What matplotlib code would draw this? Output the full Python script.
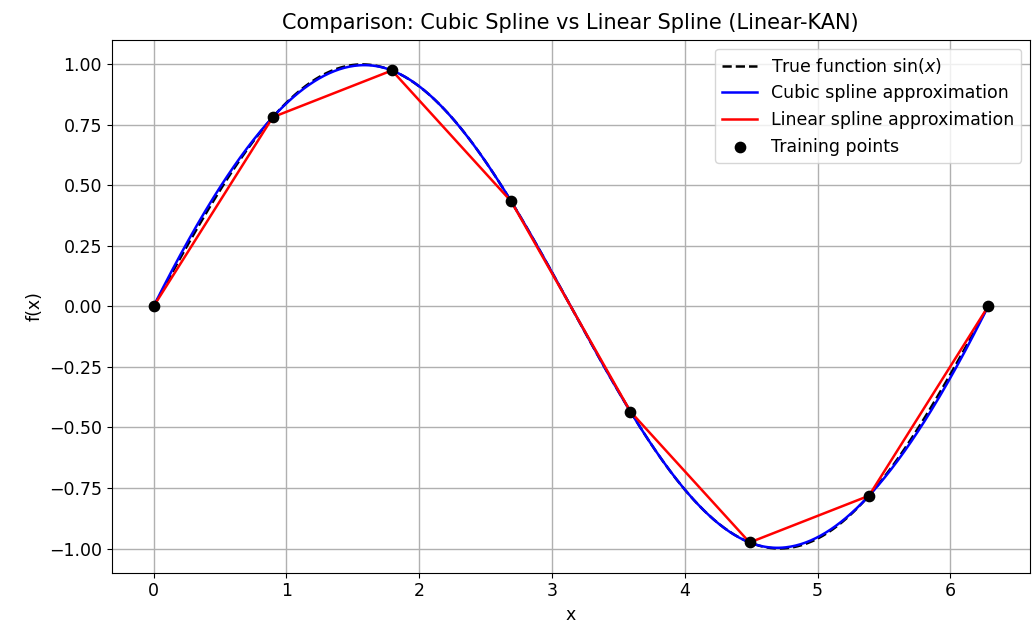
import numpy as np
import matplotlib.pyplot as plt

# training points (x_k = k * 2pi / 7)
x_train = [0.0, 0.898, 1.795, 2.693, 3.590, 4.488, 5.386, 6.283]
y_train = [0.0, 0.782, 0.975, 0.434, -0.434, -0.975, -0.782, 0.0]


def notaknot_cubic_spline(xk, yk, xs):
    xk = np.asarray(xk)
    yk = np.asarray(yk)
    n = len(xk)
    h = np.diff(xk)
    A = np.zeros((n, n))
    b = np.zeros(n)
    # not-a-knot end conditions (third derivative continuous at 2nd and 2nd-last knots)
    A[0, 0] = h[1]
    A[0, 1] = -(h[0] + h[1])
    A[0, 2] = h[0]
    A[-1, -3] = h[-1]
    A[-1, -2] = -(h[-2] + h[-1])
    A[-1, -1] = h[-2]
    for i in range(1, n - 1):
        A[i, i - 1] = h[i - 1]
        A[i, i] = 2 * (h[i - 1] + h[i])
        A[i, i + 1] = h[i]
        b[i] = 3 * ((yk[i + 1] - yk[i]) / h[i] - (yk[i] - yk[i - 1]) / h[i - 1])
    c = np.linalg.solve(A, b)
    idx = np.clip(np.searchsorted(xk, xs) - 1, 0, n - 2)
    dx = xs - xk[idx]
    hi = h[idx]
    bb = (yk[idx + 1] - yk[idx]) / hi - hi * (2 * c[idx] + c[idx + 1]) / 3
    dd = (c[idx + 1] - c[idx]) / (3 * hi)
    return yk[idx] + bb * dx + c[idx] * dx**2 + dd * dx**3


x_dense = np.linspace(0, 2 * np.pi, 500)
y_true = np.sin(x_dense)
y_cubic = notaknot_cubic_spline(x_train, y_train, x_dense)

plt.rcParams["font.size"] = 12.5
plt.rcParams["lines.linewidth"] = 1.8

fig = plt.figure(figsize=(10.35, 6.28), dpi=100)
ax = fig.add_axes([0.108, 0.088, 0.887, 0.848])
ax.plot(x_dense, y_true, "k--", label="True function $\\sin(x)$")
ax.plot(x_dense, y_cubic, color="blue", label="Cubic spline approximation")
ax.plot(x_train, y_train, color="red", label="Linear spline approximation")
ax.scatter(x_train, y_train, color="black", s=55, zorder=5, label="Training points")
ax.set_xlabel("x")
ax.set_ylabel("f(x)")
ax.set_title("Comparison: Cubic Spline vs Linear Spline (Linear-KAN)", pad=8)
ax.legend()
ax.grid(True, linewidth=1.0)
fig.savefig("out.png")
